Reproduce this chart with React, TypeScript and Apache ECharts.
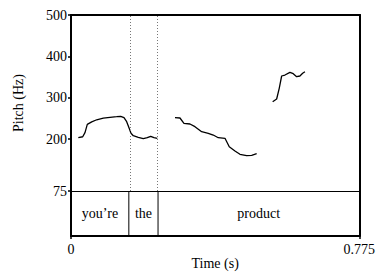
import React, { useEffect, useRef } from "react";
import * as echarts from "echarts";

const seg1Time = [0.0196, 0.0314, 0.0375, 0.0437, 0.0555, 0.0689, 0.0866, 0.1046, 0.1225, 0.1332, 0.1421, 0.1493, 0.1555, 0.1609, 0.167, 0.1804, 0.1938, 0.2046, 0.2137, 0.2225, 0.2314];
const seg1Hz = [203.7, 206, 215.8, 236, 242, 247, 251, 253, 254.4, 255.4, 252, 242.4, 227.9, 214.3, 208.5, 204.7, 201.3, 203.7, 207, 203.7, 202.3];
const seg2Time = [0.2788, 0.2922, 0.3029, 0.319, 0.3324, 0.3504, 0.3681, 0.3815, 0.3949, 0.4129, 0.4244, 0.4397, 0.4531, 0.471, 0.4845, 0.4979];
const seg2Hz = [252, 251.3, 238.5, 236.8, 230.3, 218.2, 214.3, 210.2, 203.7, 202.3, 182, 171.6, 163.6, 160.2, 161.2, 165];
const seg3Time = [0.5408, 0.5515, 0.5584, 0.5649, 0.5737, 0.5871, 0.596, 0.6051, 0.6139, 0.6212, 0.6273];
const seg3Hz = [290.6, 297.2, 323, 352.7, 355.1, 361.6, 358.3, 351, 352.7, 359.2, 363];

const wordLabels = ["you\u2019re", "the", "product"];
const wordStarts = [0, 0.1555, 0.234];
const wordEnds = [0.1555, 0.234, 0.775];
const boundaries = [0.1555, 0.234];

const yTicks = [75, 200, 300, 400, 500];
const xTicks = [0, 0.775];
const X_MIN = 0;
const X_MAX = 0.775;
const Y_MIN = 75;
const Y_MAX = 500;

const FONT = "'Liberation Serif', 'Times New Roman', serif";

const pairs = (t: number[], v: number[]) => t.map((x, i) => [x, v[i]]);

export default function App() {
  const ref = useRef<HTMLDivElement>(null);
  useEffect(() => {
    if (!ref.current) return;
    const chart = echarts.init(ref.current, undefined, { renderer: "svg" });
    const thick = { show: true, lineStyle: { color: "#000", width: 2 } };
    const hidden = { show: false };
    const lineSeries = (name: string, t: number[], v: number[], extra: any = {}) => ({
      name,
      type: "line",
      xAxisIndex: 0,
      yAxisIndex: 0,
      data: pairs(t, v),
      showSymbol: false,
      symbol: "none",
      lineStyle: { color: "#000", width: 1.3 },
      silent: true,
      ...extra,
    });
    chart.setOption({
      animation: false,
      textStyle: { fontFamily: FONT },
      grid: [
        { left: 71, top: 15, width: 289, height: 176 },
        { left: 71, top: 191, width: 289, height: 45 },
      ],
      xAxis: [
        {
          gridIndex: 0, type: "value", min: X_MIN, max: X_MAX, position: "bottom",
          axisLine: { show: true, onZero: false, lineStyle: { color: "#000", width: 1 } },
          axisTick: hidden, axisLabel: hidden, splitLine: hidden,
        },
        {
          gridIndex: 0, type: "value", min: X_MIN, max: X_MAX, position: "top",
          axisLine: { ...thick, onZero: false }, axisTick: hidden, axisLabel: hidden, splitLine: hidden,
        },
        {
          gridIndex: 1, type: "value", min: X_MIN, max: X_MAX, position: "bottom",
          axisLine: { ...thick, onZero: false },
          axisTick: { show: true, customValues: xTicks, length: 3, lineStyle: { color: "#000", width: 1.5 } },
          axisLabel: {
            show: true, customValues: xTicks, margin: 6, color: "#000", fontFamily: FONT, fontSize: 14,
            formatter: (v: number) => (v === 0 ? "0" : String(v)),
          },
          splitLine: hidden,
          name: "Time (s)", nameLocation: "middle", nameGap: 18,
          nameTextStyle: { color: "#000", fontFamily: FONT, fontSize: 14 },
        },
      ],
      yAxis: [
        {
          gridIndex: 0, type: "value", min: Y_MIN, max: Y_MAX, position: "left",
          axisLine: { ...thick, onZero: false },
          axisTick: { show: true, customValues: yTicks, length: 3, lineStyle: { color: "#000", width: 1.5 } },
          axisLabel: { show: true, customValues: yTicks, margin: 4, color: "#000", fontFamily: FONT, fontSize: 14 },
          splitLine: hidden,
          name: "Pitch (Hz)", nameLocation: "middle", nameGap: 46, nameRotate: 90,
          nameTextStyle: { color: "#000", fontFamily: FONT, fontSize: 14 },
        },
        {
          gridIndex: 0, type: "value", min: Y_MIN, max: Y_MAX, position: "right",
          axisLine: { ...thick, onZero: false }, axisTick: hidden, axisLabel: hidden, splitLine: hidden,
        },
        {
          gridIndex: 1, type: "value", min: 0, max: 1, position: "left",
          axisLine: { ...thick, onZero: false }, axisTick: hidden, axisLabel: hidden, splitLine: hidden,
        },
        {
          gridIndex: 1, type: "value", min: 0, max: 1, position: "right",
          axisLine: { ...thick, onZero: false }, axisTick: hidden, axisLabel: hidden, splitLine: hidden,
        },
      ],
      series: [
        lineSeries("seg1", seg1Time, seg1Hz, {
          markLine: {
            silent: true,
            symbol: "none",
            label: { show: false },
            lineStyle: { color: "#777", type: [1, 2], width: 1 },
            data: boundaries.map((b) => ({ xAxis: b })),
          },
        }),
        lineSeries("seg2", seg2Time, seg2Hz),
        lineSeries("seg3", seg3Time, seg3Hz),
        {
          type: "custom",
          xAxisIndex: 2,
          yAxisIndex: 2,
          silent: true,
          data: wordLabels.map((w, i) => [wordStarts[i], wordEnds[i], w]),
          renderItem: (params: any, api: any) => {
            const s = api.value(0);
            const e = api.value(1);
            const label = wordLabels[params.dataIndex];
            const p0 = api.coord([s, 1]);
            const p1 = api.coord([e, 0]);
            const children: any[] = [];
            if (e < X_MAX) {
              children.push({
                type: "line",
                shape: { x1: p1[0], y1: p0[1], x2: p1[0], y2: p1[1] },
                style: { stroke: "#000", lineWidth: 1 },
              });
            }
            children.push({
              type: "text",
              x: (p0[0] + p1[0]) / 2,
              y: (p0[1] + p1[1]) / 2,
              style: {
                text: label, fill: "#000", fontFamily: FONT, fontSize: 14,
                align: "center", verticalAlign: "middle",
              },
            });
            return { type: "group", children };
          },
        },
      ],
    });
    return () => chart.dispose();
  }, []);
  return (
    <div
      ref={ref}
      style={{ position: "absolute", left: 0, top: 0, width: 378, height: 273 }}
    />
  );
}
